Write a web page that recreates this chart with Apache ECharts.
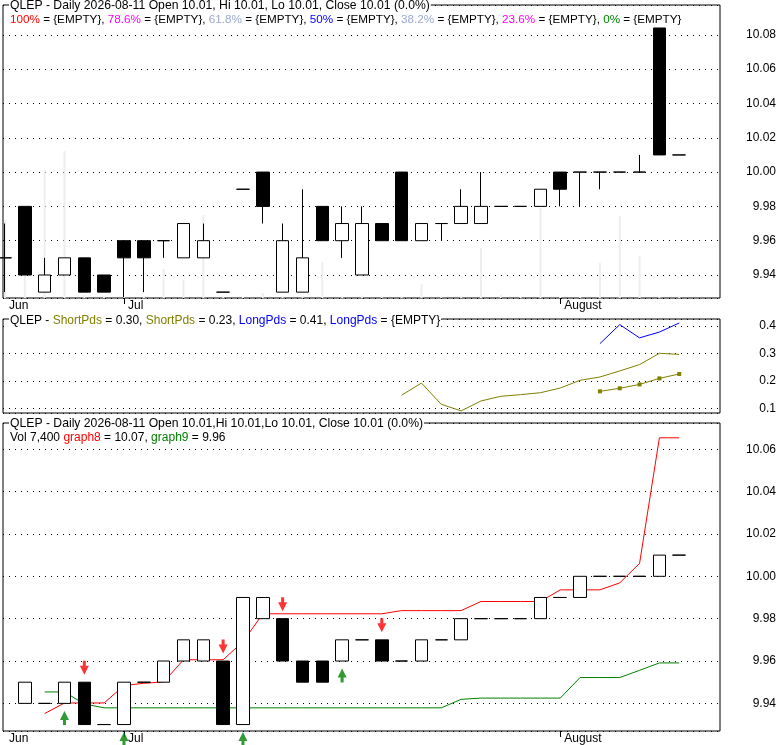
<!DOCTYPE html>
<html><head><meta charset="utf-8">
<script src="https://cdn.jsdelivr.net/npm/echarts@6/dist/echarts.min.js"></script>
<style>html,body{margin:0;padding:0;background:#fff}#c{width:780px;height:745px}</style>
</head><body><div id="c"></div>
<script>
// ---- price panel (daily candles), index 0..34 ----
const priceOpen  = [9.95,9.98,9.93,9.94,9.95,9.94,9.96,9.96,9.96,9.95,9.95,9.93,9.99,10.00,9.93,9.93,9.98,9.96,9.94,9.97,10.00,9.96,9.97,9.97,9.97,9.98,9.98,9.98,10.00,10.00,10.00,10.00,10.00,10.084,10.01];
const priceClose = [9.95,9.94,9.94,9.95,9.93,9.93,9.95,9.95,9.96,9.97,9.96,9.93,9.99,9.98,9.96,9.95,9.96,9.97,9.97,9.96,9.96,9.97,9.97,9.98,9.98,9.98,9.98,9.99,9.99,10.00,10.00,10.00,10.00,10.01,10.01];
const priceLow   = [9.93,9.94,9.93,9.94,9.93,9.93,9.927,9.93,9.95,9.95,9.95,9.93,9.99,9.97,9.93,9.93,9.96,9.95,9.94,9.96,9.96,9.96,9.96,9.97,9.97,9.98,9.98,9.98,9.98,9.98,9.99,10.00,10.00,10.01,10.01];
const priceHigh  = [9.97,9.98,9.95,9.95,9.95,9.94,9.96,9.96,9.96,9.97,9.97,9.93,9.99,10.00,9.97,9.99,9.98,9.98,9.98,9.97,10.00,9.97,9.97,9.99,10.00,9.98,9.98,9.99,10.00,10.00,10.00,10.00,10.01,10.084,10.01];
const volume     = [312000,260000,512000,588000,12000,8000,10000,8000,116000,72000,332000,8000,6000,20000,8000,8000,144000,8000,10000,6000,6000,56000,6000,7000,200000,13000,5000,360000,5000,6000,140000,328000,168000,5000,7400];

// ---- middle panel ----
const shortPdsA = [null,null,null,null,null,null,null,null,null,null,null,null,null,null,null,null,null,null,null,null,0.149,0.193,0.116,0.092,0.128,0.145,0.151,0.158,0.175,0.203,0.215,0.237,0.260,0.301,0.297];
const shortPdsB = [null,null,null,null,null,null,null,null,null,null,null,null,null,null,null,null,null,null,null,null,null,null,null,null,null,null,null,null,null,null,0.163,0.174,0.188,0.210,0.226];
const longPds   = [null,null,null,null,null,null,null,null,null,null,null,null,null,null,null,null,null,null,null,null,null,null,null,null,null,null,null,null,null,null,0.336,0.405,0.357,0.378,0.411];

// ---- bottom panel ----
const sigOpen  = [null,9.94,9.94,9.94,9.95,9.93,9.93,9.95,9.95,9.96,9.96,9.96,9.93,9.98,9.98,9.96,9.96,9.96,9.97,9.97,9.96,9.96,9.97,9.97,9.98,9.98,9.98,9.98,9.99,9.99,10.00,10.00,10.00,10.00,10.01];
const sigClose = [null,9.95,9.94,9.95,9.93,9.93,9.95,9.95,9.96,9.97,9.97,9.93,9.99,9.99,9.96,9.95,9.95,9.97,9.97,9.96,9.96,9.97,9.97,9.98,9.98,9.98,9.98,9.99,9.99,10.00,10.00,10.00,10.00,10.01,10.01];
const graph8 = [null,null,9.9352,9.9402,9.9402,9.9402,9.9484,9.9495,9.9501,9.9606,9.9606,9.9606,9.9691,9.9823,9.9823,9.9823,9.9823,9.9823,9.9823,9.9823,9.9838,9.9838,9.9838,9.9838,9.9881,9.9881,9.9881,9.9881,9.9936,9.9936,9.9936,9.9969,10.0061,10.0654,10.0654];
const graph9 = [null,null,9.9454,9.9454,9.9397,9.9379,9.9379,9.9379,9.9379,9.9379,9.9379,9.9379,9.9379,9.9379,9.9379,9.9379,9.9379,9.9379,9.9379,9.9379,9.9379,9.9379,9.9379,9.9419,9.9425,9.9425,9.9425,9.9425,9.9425,9.9522,9.9522,9.9522,9.9556,9.9591,9.9591];
const sellSignals = [4, 11, 14, 19];
const buySignals  = [3, 6, 12, 17];

// ---- axis labels ----
const monthLabelIdx  = [0, 6, 28];
const monthLabelText = ['Jun', 'Jul', 'August'];
const monthTickIdx   = [6, 28];

const font = 'Liberation Sans, Arial, sans-serif';
const X_MIN = -0.1009, X_MAX = 36.056;

function xAx(grid, labels) {
  return {
    type: 'value', gridIndex: grid, min: X_MIN, max: X_MAX, position: 'bottom',
    axisLine: {show: false}, splitLine: {show: false},
    axisTick: labels ? {show: true, customValues: monthTickIdx, length: 6, lineStyle: {color: '#000'}} : {show: false},
    axisLabel: labels ? {show: true, customValues: monthLabelIdx,
      formatter: v => monthLabelText[monthLabelIdx.indexOf(v)],
      align: 'left', padding: [0, 0, 0, 4], margin: 2, color: '#000', fontSize: 12, fontFamily: font} : {show: false}
  };
}
function yAx(grid, min, max, step, dec) {
  return {
    type: 'value', gridIndex: grid, position: 'right', min: min, max: max,
    minInterval: step, maxInterval: step, splitNumber: 8,
    axisLine: {show: false}, axisTick: {show: false},
    axisLabel: {formatter: v => v.toFixed(dec), align: 'right', margin: 56, color: '#000',
      fontSize: 12, fontFamily: font, showMinLabel: false, showMaxLabel: false},
    splitLine: {show: true, lineStyle: {color: '#000', width: 1, type: [1, 5]}}
  };
}
const toXY = arr => arr.map((v, i) => [i, v]).filter(d => d[1] != null);

const candleStyle = {color: '#fff', color0: '#000', borderColor: '#000', borderColor0: '#000', borderColorDoji: '#000', borderWidth: 1};

const topCandles = priceOpen.map((o, i) => [i, o, priceClose[i], priceLow[i], priceHigh[i]]);
const botCandles = sigOpen.map((o, i) => o == null ? null :
  [i, o, sigClose[i], Math.min(o, sigClose[i]), Math.max(o, sigClose[i])]).filter(d => d);

function ts(size) { return {fontSize: size, fontFamily: font, fontWeight: 'normal', color: '#000'}; }
function richFor(size) {
  const r = {};
  const cols = {red: '#ff0000', mag: '#ff00ff', lb: '#99aacc', blu: '#0000ff', grn: '#008000', olv: '#808000'};
  Object.keys(cols).forEach(k => { r[k] = {color: cols[k], fontSize: size, fontFamily: font}; });
  return r;
}

const option = {
  animation: false,
  backgroundColor: '#fff',
  title: [
    {text: 'QLEP - Daily 2026-08-11 Open 10.01, Hi 10.01, Lo 10.01, Close 10.01 (0.0%)',
     left: 9, top: 0, padding: [0, 1, 0, 1], backgroundColor: '#fff', textStyle: ts(12.2)},
    {text: '{red|100%} = {EMPTY}, {mag|78.6%} = {EMPTY}, {lb|61.8%} = {EMPTY}, {blu|50%} = {EMPTY}, {lb|38.2%} = {EMPTY}, {mag|23.6%} = {EMPTY}, {grn|0%} = {EMPTY}',
     left: 10, top: 14, padding: 0, textStyle: Object.assign({rich: richFor(11.7)}, ts(11.7))},
    {text: 'QLEP - {olv|ShortPds} = 0.30, {olv|ShortPds} = 0.23, {blu|LongPds} = 0.41, {blu|LongPds} = {EMPTY}',
     left: 9, top: 315, padding: [0, 1, 0, 1], backgroundColor: '#fff', textStyle: Object.assign({rich: richFor(12)}, ts(12))},
    {text: 'QLEP - Daily 2026-08-11 Open 10.01,Hi 10.01,Lo 10.01, Close 10.01 (0.0%)',
     left: 9, top: 418, padding: [0, 1, 0, 1], backgroundColor: '#fff', textStyle: ts(12.2)},
    {text: 'Vol 7,400 {red|graph8} = 10.07, {grn|graph9} = 9.96',
     left: 10, top: 432, padding: 0, textStyle: Object.assign({rich: richFor(12)}, ts(12))}
  ],
  grid: [
    {left: 3, right: 60, top: 5, height: 293, show: true, borderColor: '#000', borderWidth: 1, backgroundColor: '#fff'},
    {left: 3, right: 60, top: 319, height: 94, show: true, borderColor: '#000', borderWidth: 1, backgroundColor: '#fff'},
    {left: 3, right: 60, top: 423, height: 309, show: true, borderColor: '#000', borderWidth: 1, backgroundColor: '#fff'}
  ],
  xAxis: [xAx(0, true), xAx(1, false), xAx(2, true)],
  yAxis: [
    yAx(0, 9.92659, 10.0974, 0.02, 2),
    yAx(1, 0.0844, 0.4254, 0.1, 1),
    yAx(2, 9.92696, 10.07238, 0.02, 2),
    {type: 'value', gridIndex: 0, min: 0, max: 1172000, show: false, splitLine: {show: false}}
  ],
  series: [
    {type: 'bar', xAxisIndex: 0, yAxisIndex: 3, data: toXY(volume), barWidth: 2,
     itemStyle: {color: '#eeeeee'}, silent: true, z: 1},
    {type: 'candlestick', xAxisIndex: 0, yAxisIndex: 0, encode: {x: 0, y: [1, 2, 3, 4]},
     data: topCandles, barWidth: 13, itemStyle: candleStyle, z: 3},
    {type: 'line', xAxisIndex: 1, yAxisIndex: 1, data: toXY(shortPdsA), symbol: 'none',
     lineStyle: {color: '#808000', width: 1}},
    {type: 'line', xAxisIndex: 1, yAxisIndex: 1, data: toXY(shortPdsB), symbol: 'rect', symbolSize: 4,
     itemStyle: {color: '#808000'}, lineStyle: {color: '#808000', width: 1}},
    {type: 'line', xAxisIndex: 1, yAxisIndex: 1, data: toXY(longPds), symbol: 'none',
     lineStyle: {color: '#0000ff', width: 1}},
    {type: 'line', xAxisIndex: 2, yAxisIndex: 2, data: toXY(graph8), symbol: 'none',
     lineStyle: {color: '#ff0000', width: 1}, z: 2},
    {type: 'line', xAxisIndex: 2, yAxisIndex: 2, data: toXY(graph9), symbol: 'none',
     lineStyle: {color: '#008000', width: 1}, z: 2},
    {type: 'candlestick', xAxisIndex: 2, yAxisIndex: 2, encode: {x: 0, y: [1, 2, 3, 4]},
     data: botCandles, barWidth: 13, itemStyle: candleStyle, z: 3},
    {type: 'scatter', xAxisIndex: 2, yAxisIndex: 2, clip: false, z: 5,
     data: sellSignals.map(i => [i, Math.max(sigOpen[i], sigClose[i])]),
     symbol: 'path://M3,0 L6,0 L6,5 L9,5 L4.5,14 L0,5 L3,5 Z', symbolSize: [9, 14], symbolOffset: [0, -14.5],
     itemStyle: {color: '#ff0000'}},
    {type: 'scatter', xAxisIndex: 2, yAxisIndex: 2, clip: false, z: 5,
     data: buySignals.map(i => [i, Math.min(sigOpen[i], sigClose[i])]),
     symbol: 'path://M4.5,0 L9,9 L6,9 L6,14 L3,14 L3,9 L0,9 Z', symbolSize: [9, 14], symbolOffset: [0, 14.5],
     itemStyle: {color: '#008000'}}
  ]
};
echarts.init(document.getElementById('c'), null, {renderer: 'canvas'}).setOption(option);
</script>
</body></html>
